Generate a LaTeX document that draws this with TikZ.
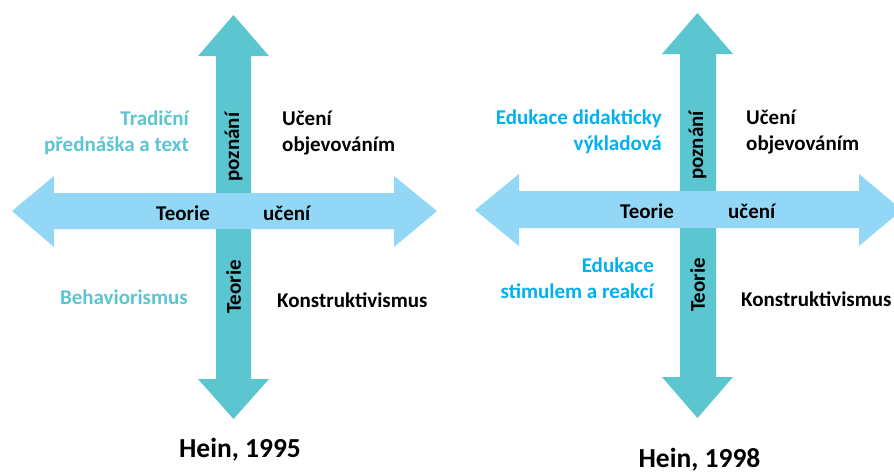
\documentclass[tikz,border=0pt]{standalone}
\usepackage{fontspec}
\setmainfont{Carlito}
\definecolor{teal1}{HTML}{5BC5D0}
\definecolor{lblue}{HTML}{92D8F6}
\definecolor{brblue}{HTML}{00B0F0}
\begin{document}
\begin{tikzpicture}[x=1pt,y=-1pt,
  lbl/.style={inner sep=0pt,font=\fontsize{21}{25}\selectfont\bfseries},
  captext/.style={inner sep=0pt,font=\fontsize{27.5}{32}\selectfont\bfseries},
  vert/.style={fill=teal1},
  horz/.style={fill=lblue}]
\useasboundingbox (0,0) rectangle (894,475);
\clip (0,0) rectangle (894,475);
% ---------- left diagram (Hein, 1995)
\fill[vert] (233.5,15) -- (269,56) -- (251,56) -- (251,379) -- (269,379) -- (233.5,419)
  -- (198,379) -- (216,379) -- (216,56) -- (198,56) -- cycle;
\fill[horz] (12,211) -- (54,176) -- (54,193) -- (394,193) -- (394,176) -- (437,211)
  -- (394,247) -- (394,229) -- (54,229) -- (54,247) -- cycle;
\node[lbl,text=teal1,anchor=base east] (a1) at (189,125) {Tradiční};
\node[lbl,text=teal1,anchor=base east] (a2) at (189,151) {přednáška a text};
\node[lbl,anchor=base west] (a3) at (282,125) {Učení};
\node[lbl,anchor=base west] (a4) at (282,151) {objevováním};
\node[lbl,rotate=90] (a5) at (233.5,147) {poznání};
\node[lbl,anchor=base west] (a6) at (156,220) {Teorie};
\node[lbl,anchor=base west] (a7) at (263,220) {učení};
\node[lbl,rotate=90] (a8) at (233.5,287) {Teorie};
\node[lbl,text=teal1,anchor=base east] (a9) at (188,304) {Behaviorismus};
\node[lbl,anchor=base west] (a10) at (277,307) {Konstruktivismus};
\node[captext,anchor=base] (a11) at (240,457) {Hein, 1995};
% ---------- right diagram (Hein, 1998)
\fill[vert] (697.5,13) -- (733,54) -- (716,54) -- (716,377) -- (733,377) -- (697.5,418)
  -- (662,377) -- (680,377) -- (680,54) -- (662,54) -- cycle;
\fill[horz] (475,210) -- (519,174) -- (519,191) -- (859,191) -- (859,174) -- (902,210)
  -- (859,246) -- (859,228) -- (519,228) -- (519,246) -- cycle;
\node[lbl,text=brblue,anchor=base east] (b1) at (662,124) {Edukace didakticky};
\node[lbl,text=brblue,anchor=base east] (b2) at (662,150) {výkladová};
\node[lbl,anchor=base west] (b3) at (746,124) {Učení};
\node[lbl,anchor=base west] (b4) at (746,150) {objevováním};
\node[lbl,rotate=90] (b5) at (697.5,145.5) {poznání};
\node[lbl,anchor=base west] (b6) at (620,218) {Teorie};
\node[lbl,anchor=base west] (b7) at (728,218) {učení};
\node[lbl,rotate=90] (b8) at (697.5,285) {Teorie};
\node[lbl,text=brblue,anchor=base east] (b9) at (654,272) {Edukace};
\node[lbl,text=brblue,anchor=base east] (b10) at (654,298) {stimulem a reakcí};
\node[lbl,anchor=base west] (b11) at (741,306) {Konstruktivismus};
\node[captext,anchor=base] (b12) at (699.5,467) {Hein, 1998};
\end{tikzpicture}
\end{document}
